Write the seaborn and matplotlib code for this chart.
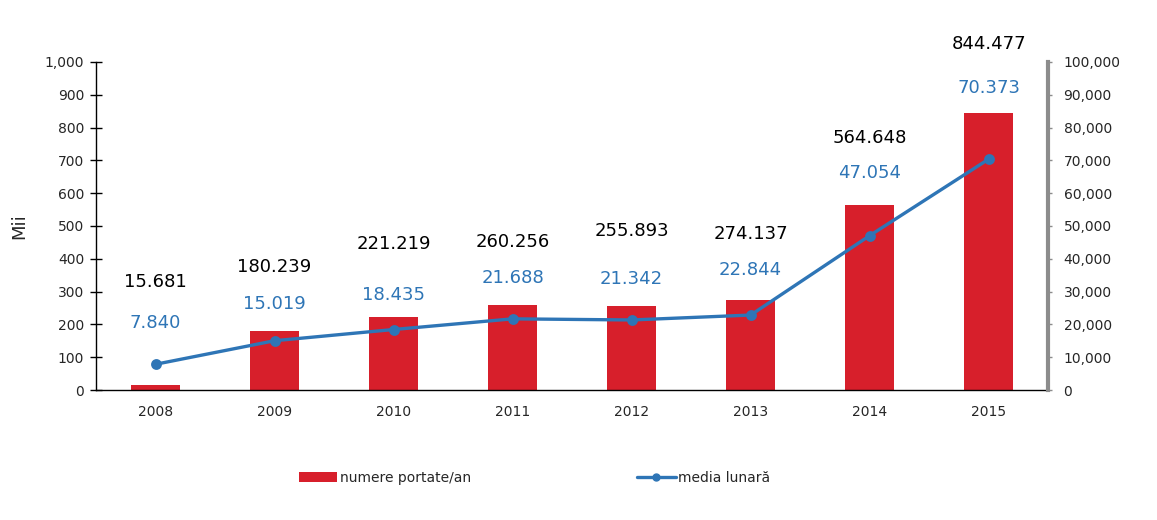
import numpy as np
import pandas as pd
import seaborn as sns
import matplotlib.pyplot as plt
from matplotlib.patches import Patch
from matplotlib.lines import Line2D
from matplotlib.ticker import FuncFormatter

years = ["2008", "2009", "2010", "2011", "2012", "2013", "2014", "2015"]
# numere portate pe an (mii)
ported = [15.681, 180.239, 221.219, 260.256, 255.893, 274.137, 564.648, 844.477]
# media lunara
monthly = [7840, 15019, 18435, 21688, 21342, 22844, 47054, 70373]
ported_labels = ["15.681", "180.239", "221.219", "260.256", "255.893", "274.137", "564.648", "844.477"]
monthly_labels = ["7.840", "15.019", "18.435", "21.688", "21.342", "22.844", "47.054", "70.373"]

# where the value labels sit, in left-axis units
ported_label_y = [329, 375, 445, 451, 485, 476, 768, 1055]
monthly_label_y = [204, 262, 290, 341, 338, 366, 662, 921]

RED = "#d71f2b"
BLUE = "#2e75b6"

sns.set_style("white")
plt.rcParams["font.family"] = ["DejaVu Sans"]

df = pd.DataFrame({"an": years, "portate": ported, "media": monthly})

fig = plt.figure(figsize=(11.57, 5.2), dpi=100)
ax = fig.add_axes([0.083, 0.25, 0.823, 0.631])
ax2 = ax.twinx()

sns.barplot(data=df, x="an", y="portate", color=RED, width=0.41,
            saturation=1, linewidth=0, edgecolor=RED, ax=ax, zorder=1)
sns.pointplot(data=df, x="an", y="media", color=BLUE, markers="o",
              markersize=6, linewidth=2.4, ax=ax2)

ax.set_xlim(-0.5, 7.5)
ax.set_ylim(0, 1000)
ax.set_yticks(np.arange(0, 1001, 100))
ax.yaxis.set_major_formatter(FuncFormatter(lambda v, p: f"{int(v):,}"))
ax2.set_ylim(0, 100000)
ax2.set_yticks(np.arange(0, 100001, 10000))
ax2.yaxis.set_major_formatter(FuncFormatter(lambda v, p: f"{int(v):,}"))

ax.set_xlabel("")
ax.set_ylabel("Mii", fontsize=13, labelpad=12)
ax2.set_ylabel("")

# x ticks at category boundaries, labels centred
ax.set_xticks(np.arange(8))
ax.set_xticklabels(years)
ax.set_xticks(np.arange(-0.5, 8.0, 1), minor=True)
ax.tick_params(axis="x", which="major", length=0, pad=11, labelsize=10)
ax.tick_params(axis="x", which="minor", length=9, direction="inout", width=1, color="black")
ax.tick_params(axis="y", length=9, direction="inout", width=1, color="black", labelsize=10, pad=4)
ax2.tick_params(axis="y", length=3, direction="out", width=1, color="#8c8c8c", labelsize=10, pad=8)

for s in ["top", "right"]:
    ax.spines[s].set_visible(False)
ax.spines["left"].set_color("black")
ax.spines["bottom"].set_color("black")
ax.spines["left"].set_linewidth(1)
ax.spines["bottom"].set_linewidth(1)
for s in ["top", "left", "bottom"]:
    ax2.spines[s].set_visible(False)
ax2.spines["right"].set_color("#8c8c8c")
ax2.spines["right"].set_linewidth(3)

for i in range(len(years)):
    ax.text(i, ported_label_y[i], ported_labels[i], ha="center", va="center",
            fontsize=13, color="black", zorder=5)
    ax.text(i, monthly_label_y[i], monthly_labels[i], ha="center", va="center",
            fontsize=13, color=BLUE, zorder=5)

handles = [Patch(facecolor=RED, edgecolor="none", label="numere portate/an"),
           Line2D([0], [0], color=BLUE, lw=2.4, marker="o", markersize=5, label="media lunară")]
fig.legend(handles=handles, loc="center", bbox_to_anchor=(0.462, 0.081), ncol=2,
           frameon=False, fontsize=10, columnspacing=11.9, handlelength=2.8,
           handletextpad=0.2)

fig.savefig("out.png", dpi=100)
